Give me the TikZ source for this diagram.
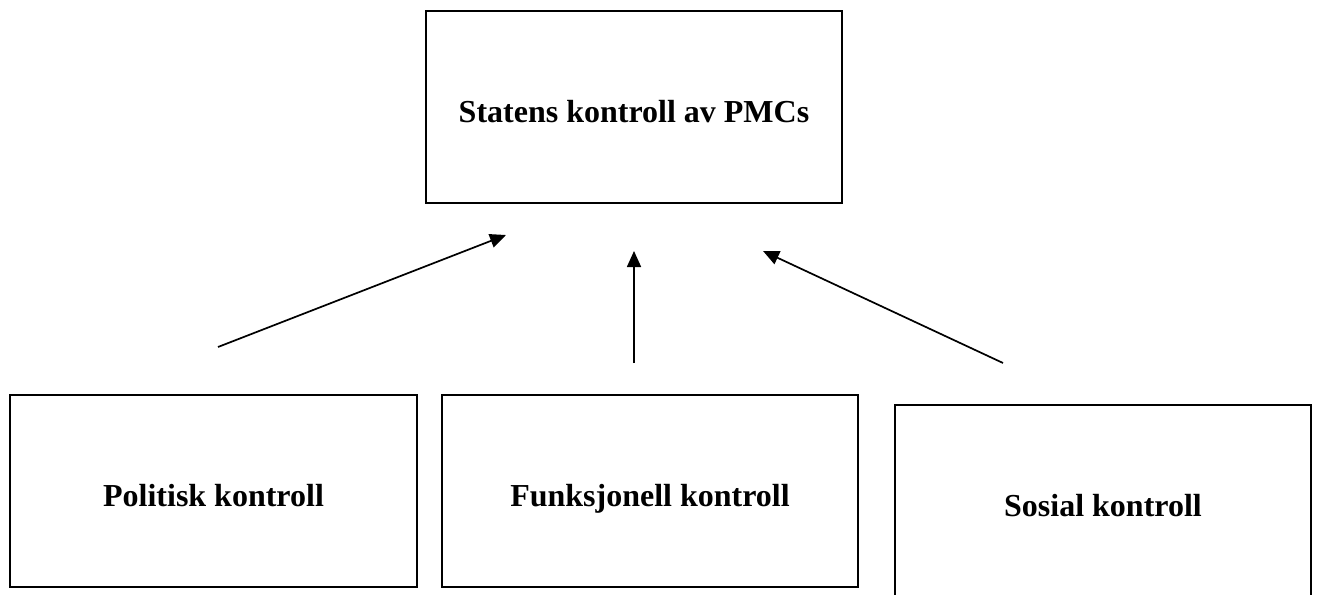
\documentclass[tikz,border=0pt]{standalone}
\usepackage{fontspec}
\setmainfont{Liberation Serif}
\usetikzlibrary{arrows.meta}
\begin{document}
\begin{tikzpicture}[x=1pt,y=-1pt,
  boxnode/.style={draw=black, line width=2pt, rectangle, inner sep=0pt,
    minimum height=192pt, text height=30pt, text depth=0pt,
    font=\fontsize{32}{38}\selectfont\bfseries},
  arrowline/.style={line width=1.7pt, -{Triangle[length=16pt,width=14pt]}}]
\useasboundingbox (0,0) rectangle (1319,594);
\fill[white] (0,0) rectangle (1319,594);
\node[boxnode, minimum width=416pt] (top) at (634,107) {Statens kontroll av PMCs};
\node[boxnode, minimum width=407pt] (pol) at (213.5,491) {Politisk kontroll};
\node[boxnode, minimum width=416pt] (fun) at (650,491) {Funksjonell kontroll};
\node[boxnode, minimum width=416pt] (sos) at (1103,501) {Sosial kontroll};
\coordinate (a1s) at (218,347);
\coordinate (a1e) at (506,235);
\coordinate (a2s) at (634,363);
\coordinate (a2e) at (634,251);
\coordinate (a3s) at (1003,363);
\coordinate (a3e) at (763,251);
\draw[arrowline] (a1s) -- (a1e);
\draw[arrowline] (a2s) -- (a2e);
\draw[arrowline] (a3s) -- (a3e);
\end{tikzpicture}
\end{document}
